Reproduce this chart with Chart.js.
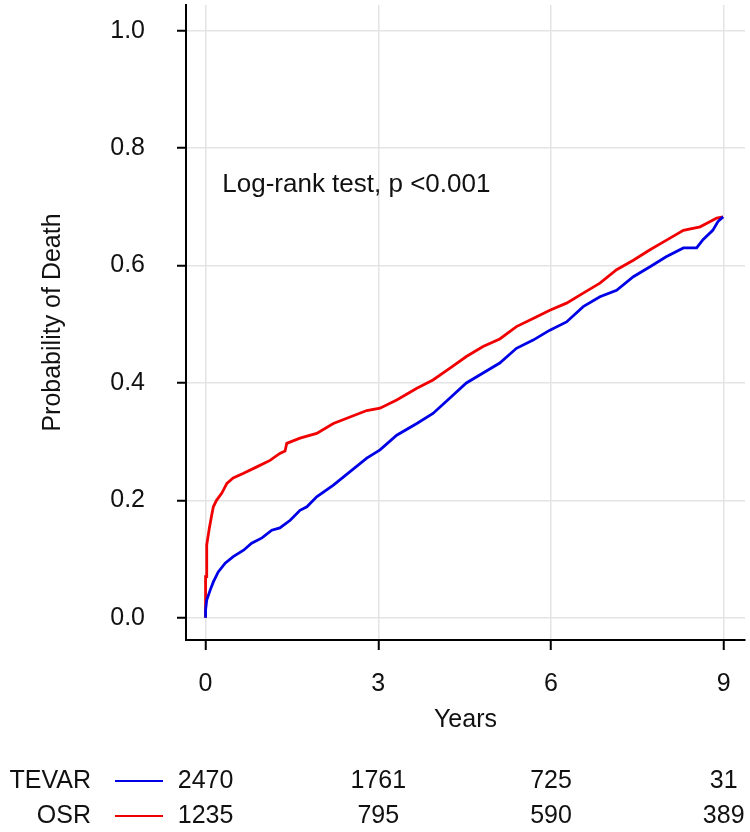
<!DOCTYPE html>
<html>
<head>
<meta charset="utf-8">
<script src="https://cdn.jsdelivr.net/npm/chart.js@4/dist/chart.umd.min.js"></script>
<style>
  html, body { margin:0; padding:0; background:#fff; }
  #wrap { width:750px; height:832px; position:relative; }
</style>
</head>
<body>
<div id="wrap"><canvas id="km" width="750" height="832"></canvas></div>
<script>
// ---- data ----
const osrTimes  = [0, 0, 0.02, 0.02, 0.066, 0.107, 0.135, 0.19, 0.28, 0.37, 0.48, 0.66, 0.89, 1.12, 1.29, 1.38, 1.41, 1.64, 1.93, 2.22, 2.51, 2.8, 3.03, 3.32, 3.67, 3.95, 4.24, 4.53, 4.82, 5.11, 5.4, 5.69, 5.98, 6.27, 6.56, 6.85, 7.14, 7.43, 7.72, 8.0, 8.3, 8.59, 8.88, 8.99];
const osrProb   = [0, 0.07, 0.07, 0.124, 0.153, 0.175, 0.189, 0.2, 0.212, 0.229, 0.238, 0.246, 0.257, 0.268, 0.28, 0.284, 0.297, 0.306, 0.314, 0.331, 0.342, 0.353, 0.357, 0.371, 0.391, 0.405, 0.425, 0.445, 0.462, 0.475, 0.496, 0.51, 0.524, 0.536, 0.553, 0.57, 0.593, 0.609, 0.627, 0.643, 0.66, 0.666, 0.681, 0.683];

const tevarTimes = [0, 0, 0.02, 0.08, 0.135, 0.22, 0.34, 0.48, 0.66, 0.8, 0.98, 1.15, 1.29, 1.47, 1.64, 1.76, 1.93, 2.22, 2.51, 2.8, 3.03, 3.32, 3.67, 3.95, 4.24, 4.53, 4.82, 5.11, 5.4, 5.69, 5.98, 6.27, 6.56, 6.85, 7.14, 7.43, 7.72, 8.0, 8.3, 8.53, 8.64, 8.81, 8.9, 8.99];
const tevarProb  = [0, 0.013, 0.03, 0.047, 0.061, 0.078, 0.093, 0.104, 0.115, 0.127, 0.136, 0.149, 0.153, 0.166, 0.183, 0.189, 0.206, 0.226, 0.249, 0.272, 0.286, 0.311, 0.331, 0.348, 0.374, 0.4, 0.417, 0.434, 0.459, 0.473, 0.49, 0.504, 0.53, 0.547, 0.558, 0.581, 0.598, 0.615, 0.63, 0.63, 0.644, 0.66, 0.675, 0.683];

// number at risk
const riskTimes = [0, 3, 6, 9];
const tevarRisk = [2470, 1761, 725, 31];
const osrRisk   = [1235, 795, 590, 389];

const groups = ['TEVAR', 'OSR'];
const colors = { TEVAR: '#0000e6', OSR: '#f00000' };
const annotation = 'Log-rank test, p <0.001';

const FONT = "'Liberation Sans', Arial, sans-serif";
const textColor = '#111';

function toPoints(ts, ps){ return ts.map((t,i)=>({x:t, y:ps[i]})); }

// ---- risk table + p value text ----
const extras = {
  id:'extras',
  afterDraw(chart){
    const ctx = chart.ctx;
    const xs = chart.scales.x, ys = chart.scales.y;
    ctx.save();
    ctx.fillStyle = textColor;
    ctx.font = '26px ' + FONT;
    ctx.textAlign = 'left';
    ctx.textBaseline = 'alphabetic';
    ctx.fillText(annotation, xs.getPixelForValue(0.29), ys.getPixelForValue(0.7255));

    const rows = [[groups[0], tevarRisk, 781], [groups[1], osrRisk, 816]];
    ctx.font = '25px ' + FONT;
    ctx.textBaseline = 'middle';
    rows.forEach(([name, vals, y])=>{
      ctx.fillStyle = textColor;
      ctx.textAlign = 'right';
      ctx.fillText(name, 91, y);
      ctx.strokeStyle = colors[name];
      ctx.lineWidth = 2;
      ctx.beginPath(); ctx.moveTo(115, y); ctx.lineTo(163, y); ctx.stroke();
      ctx.textAlign = 'center';
      vals.forEach((v,i)=> ctx.fillText(String(v), xs.getPixelForValue(riskTimes[i]), y));
    });
    ctx.restore();
  }
};

Chart.defaults.font.family = FONT;
Chart.defaults.font.size = 25;
Chart.defaults.color = textColor;

new Chart(document.getElementById('km'), {
  type:'line',
  data:{
    datasets:[
      { label:'TEVAR', data:toPoints(tevarTimes, tevarProb), borderColor:colors.TEVAR, borderWidth:2.8, pointRadius:0, tension:0, fill:false },
      { label:'OSR', data:toPoints(osrTimes, osrProb), borderColor:colors.OSR, borderWidth:2.8, pointRadius:0, tension:0, fill:false }
    ]
  },
  options:{
    responsive:false,
    animation:false,
    layout:{ padding:{ top:5, right:5, left:0, bottom:92 } },
    plugins:{ legend:{display:false}, tooltip:{enabled:false} },
    scales:{
      x:{
        type:'linear',
        min:-0.34, max:9.37,
        afterFit: s => { s.height = 100; s.paddingLeft = 0; s.paddingRight = 0; },
        ticks:{ stepSize:3, includeBounds:false, padding:19, maxRotation:0 },
        grid:{ color:'#e4e4e4', lineWidth:1.5, tickColor:'#000', tickLength:10, tickWidth:2 },
        border:{ display:true, color:'#000', width:2 },
        title:{ display:true, text:'Years', padding:{top:0, bottom:5} }
      },
      y:{
        min:-0.038, max:1.044,
        afterFit: s => { s.width = 186; s.paddingTop = 0; s.paddingBottom = 0; },
        ticks:{ stepSize:0.2, includeBounds:false, padding:32, callback: v => v.toFixed(1) },
        grid:{ color:'#e4e4e4', lineWidth:1.5, tickColor:'#000', tickLength:9, tickWidth:2 },
        border:{ display:true, color:'#000', width:2 },
        title:{ display:true, text:'Probability of Death', padding:{top:38, bottom:0} }
      }
    }
  },
  plugins:[extras]
});
</script>
</body>
</html>
